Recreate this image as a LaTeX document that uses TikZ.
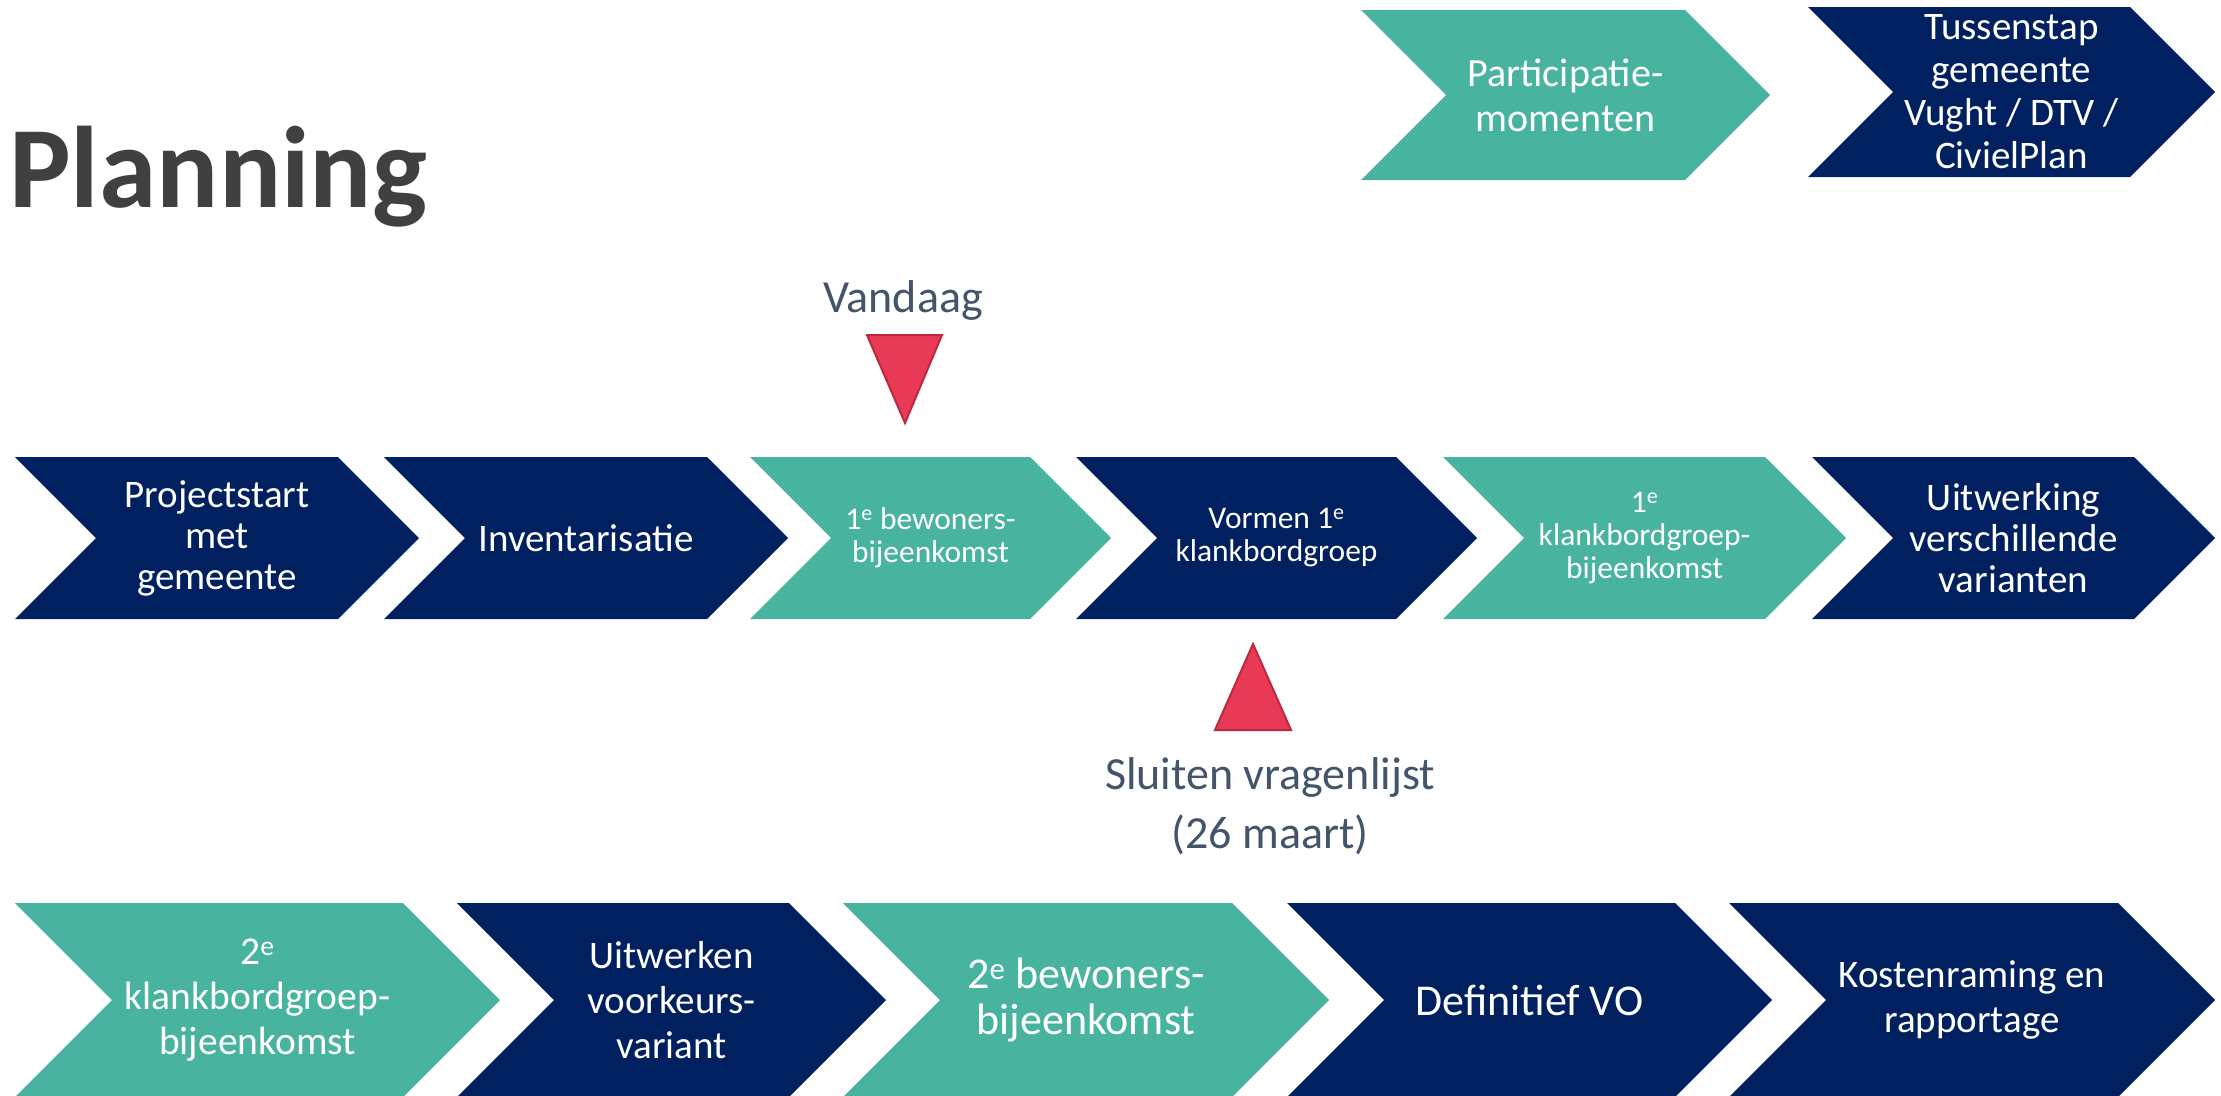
\documentclass[tikz,border=0pt]{standalone}
\usepackage{fontspec}
\setmainfont{Carlito}
\usepackage{tikz}
\usetikzlibrary{positioning, calc}

\definecolor{navy}{RGB}{0,32,96}
\definecolor{teal}{RGB}{72,179,158}
\definecolor{mpred}{RGB}{232,58,87}
\definecolor{mpredrand}{RGB}{190,40,62}
\definecolor{notegray}{RGB}{68,84,106}
\definecolor{titelgrijs}{RGB}{64,64,64}

\tikzset{
  stap/.style={text=white, align=center, inner sep=0pt, font=\fontsize{39}{41}\selectfont},
  klein/.style={font=\fontsize{31.5}{33}\selectfont},
  groot/.style={font=\fontsize{44}{46}\selectfont},
  mijlpaal/.style={fill=mpred, draw=mpredrand, line width=2pt, line join=miter},
  notitie/.style={text=notegray, align=center, inner sep=0pt, font=\fontsize{46}{59}\selectfont}
}

% naam, links, boven, breedte, hoogte, kleur, opties, tekst
\newcommand{\pijl}[8]{%
  \fill[#6] (#2,#3) -- ({#2+#4-#5/2},#3) -- ({#2+#4},{#3+#5/2}) -- ({#2+#4-#5/2},{#3+#5})
    -- (#2,{#3+#5}) -- ({#2+#5/2},{#3+#5/2}) -- cycle;
  \node[stap,#7] (#1) at ({#2+#4/2},{#3+#5/2}) {#8};
}

\begin{document}
\begin{tikzpicture}[x=1pt, y=-1pt]
\fill[white] (0,0) rectangle (2221,1095);
\useasboundingbox (0,0) rectangle (2221,1095);

\node[anchor=base west, inner sep=0pt, text=titelgrijs, font=\fontsize{116}{118}\selectfont\bfseries] (titel) at (9,207) {Planning};

\pijl{part}{1361}{10}{409}{170}{teal}{font=\fontsize{40}{45}\selectfont}{Participatie-\\momenten}
\pijl{tussen}{1808}{7}{407}{170}{navy}{font=\fontsize{39}{43}\selectfont}{Tussenstap\\gemeente\\Vught / DTV /\\CivielPlan}

\pijl{start}{15}{457}{404}{162}{navy}{}{Projectstart\\met\\gemeente}
\pijl{inv}{384}{457}{404}{162}{navy}{}{Inventarisatie}
\pijl{bew1}{750}{457}{361}{162}{teal}{klein}{1\textsuperscript{e} bewoners-\\bijeenkomst}
\pijl{vorm}{1076}{457}{401}{162}{navy}{klein}{Vormen 1\textsuperscript{e}\\klankbordgroep}
\pijl{kbg1}{1443}{457}{403}{162}{teal}{klein}{1\textsuperscript{e}\\klankbordgroep-\\bijeenkomst}
\pijl{uitw}{1812}{457}{403}{162}{navy}{}{Uitwerking\\verschillende\\varianten}

\pijl{kbg2}{15}{903}{485}{194}{teal}{font=\fontsize{39.5}{45}\selectfont}{2\textsuperscript{e}\\klankbordgroep-\\bijeenkomst}
\pijl{voork}{457}{903}{429}{194}{navy}{font=\fontsize{39}{45}\selectfont}{Uitwerken\\voorkeurs-\\variant}
\pijl{bew2}{843}{903}{486}{194}{teal}{groot}{2\textsuperscript{e} bewoners-\\bijeenkomst}
\pijl{vo}{1287}{903}{485}{194}{navy}{groot}{Definitief VO}
\pijl{kosten}{1729}{903}{486}{194}{navy}{font=\fontsize{39}{45}\selectfont}{Kostenraming en\\rapportage}

\draw[mijlpaal] (867,335) -- (942,335) -- (905,423) -- cycle;
\node[notitie, anchor=base] (vandaag) at (903,312) {Vandaag};

\draw[mijlpaal] (1253,644) -- (1291,730) -- (1215,730) -- cycle;
\node[notitie, anchor=north] (sluiten) at (1270,757) {Sluiten vragenlijst\\(26 maart)};
\end{tikzpicture}
\end{document}
